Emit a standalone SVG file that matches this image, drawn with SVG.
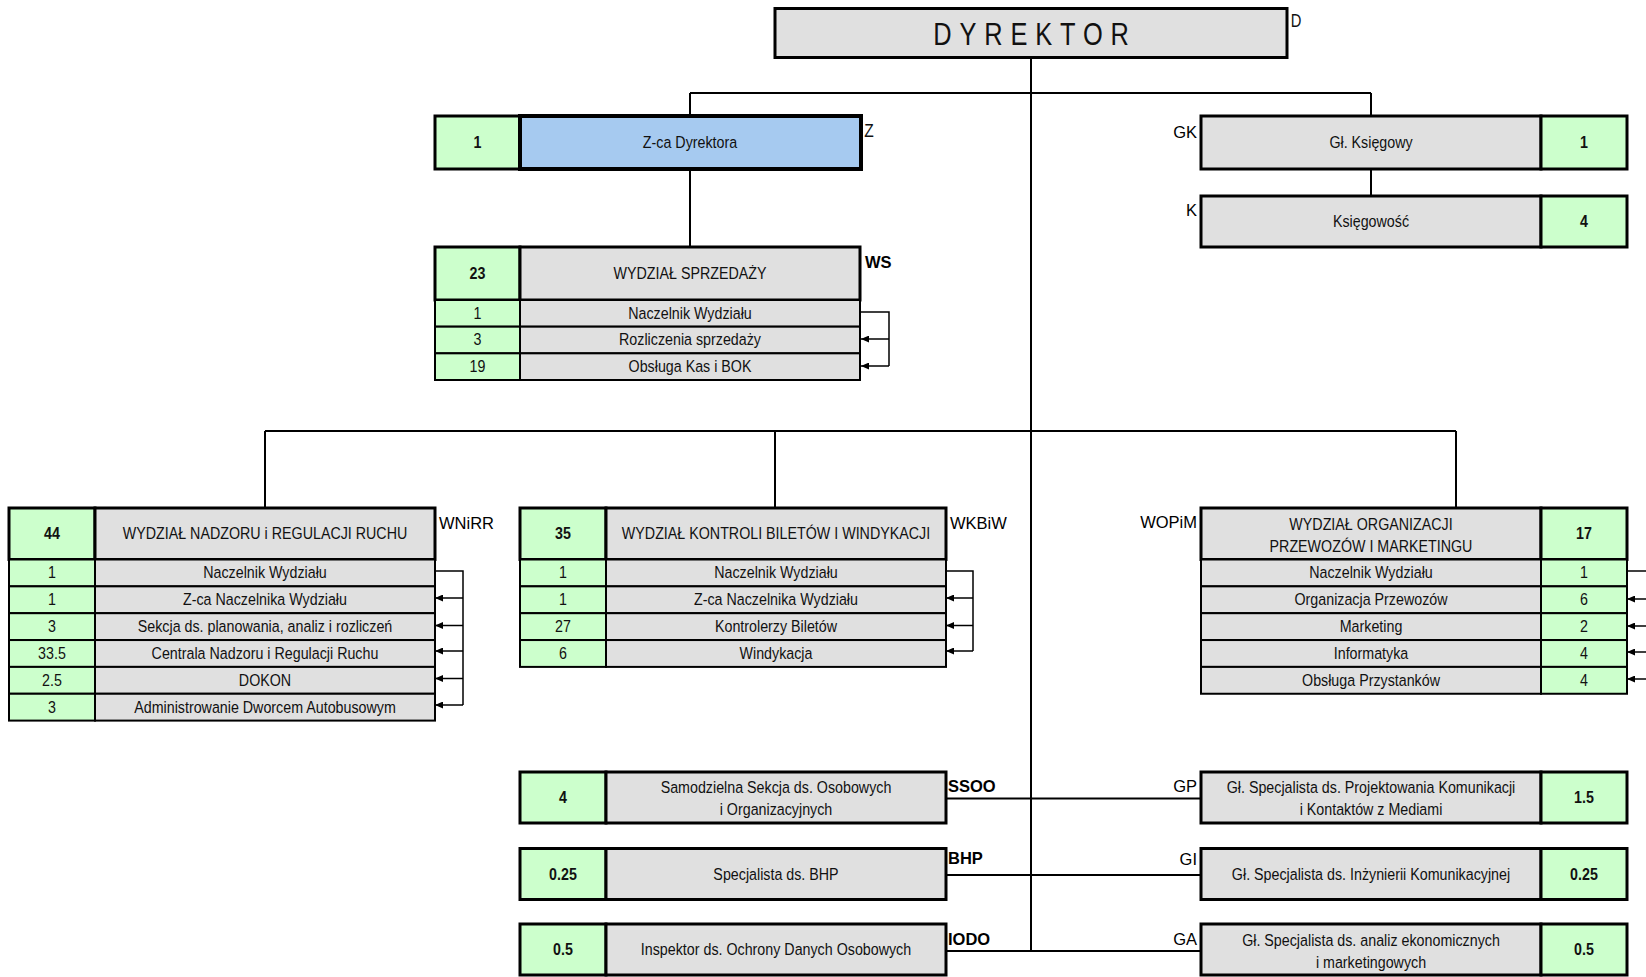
<svg xmlns="http://www.w3.org/2000/svg" width="1646" height="977" viewBox="0 0 1646 977">
<style>
.g{fill:#e0e0e0;stroke:#000;stroke-width:2}
.n{fill:#ccffcc;stroke:#000;stroke-width:2}
.bl{fill:#a6caf0;stroke:#000;stroke-width:4}
.k{stroke-width:3}
.t{font-family:"Liberation Sans Narrow","Liberation Sans",Arial,sans-serif;font-size:17.4px;fill:#111;text-anchor:middle}
.b{font-weight:bold}
.l{font-family:"Liberation Sans",Arial,sans-serif;font-size:16.5px;fill:#000}
.e{text-anchor:end}
.c{stroke:#000;stroke-width:2;fill:none}
.br{stroke:#000;stroke-width:1.5;fill:none}
</style>
<defs>
<marker id="ah" viewBox="0 0 8 7" refX="8" refY="3.5" markerWidth="8" markerHeight="7" markerUnits="userSpaceOnUse" orient="auto">
<path d="M0,0 L8,3.5 L0,7 z" fill="#000"/>
</marker>
</defs>

<g id="connectors">
<path class="c" d="M1031,58 V951"/>
<path class="c" d="M690,93 H1371"/>
<path class="c" d="M690,93 V116 M690,169 V247"/>
<path class="c" d="M1371,93 V116 M1371,169 V196"/>
<path class="c" d="M265,431 H1456 M265,431 V508 M775,431 V508 M1456,431 V508"/>
<path class="c" d="M946,798.5 H1201 M946,875 H1201 M946,951 H1201"/>
<path class="br" d="M861,312 H889 V366"/>
<path class="br" marker-end="url(#ah)" d="M889,339 H861"/>
<path class="br" marker-end="url(#ah)" d="M889,366 H861"/>
<path class="br" d="M435,571 H463 V705"/>
<path class="br" marker-end="url(#ah)" d="M463,598 H435"/>
<path class="br" marker-end="url(#ah)" d="M463,625.5 H435"/>
<path class="br" marker-end="url(#ah)" d="M463,651 H435"/>
<path class="br" marker-end="url(#ah)" d="M463,678.5 H435"/>
<path class="br" marker-end="url(#ah)" d="M463,705 H435"/>
<path class="br" d="M946,571 H973 V651"/>
<path class="br" marker-end="url(#ah)" d="M973,598 H946"/>
<path class="br" marker-end="url(#ah)" d="M973,625.5 H946"/>
<path class="br" marker-end="url(#ah)" d="M973,651 H946"/>
<path class="br" d="M1646,571 H1627"/>
<path class="br" marker-end="url(#ah)" d="M1646,599 H1627"/>
<path class="br" marker-end="url(#ah)" d="M1646,626 H1627"/>
<path class="br" marker-end="url(#ah)" d="M1646,652 H1627"/>
<path class="br" marker-end="url(#ah)" d="M1646,679 H1627"/>
</g>

<g id="D">
<rect class="g k" x="775" y="8.5" width="512" height="49"/>
<text class="t" transform="matrix(.82 0 0 1 1035 0)" y="45" style="font-size:31px;letter-spacing:9.6px">DYREKTOR</text>
<text class="t" transform="matrix(.82 0 0 1 1296 0)" y="27" style="font-size:18px">D</text>
</g>

<g id="Z">
<rect class="n k" x="435" y="116" width="85" height="53"/>
<rect class="bl" x="520" y="116" width="341" height="53"/>
<text class="t b" transform="matrix(.82 0 0 1 477.5 0)" y="148.5">1</text>
<text class="t" transform="matrix(.82 0 0 1 690 0)" y="148.5">Z-ca Dyrektora</text>
<text class="t" transform="matrix(.82 0 0 1 869 0)" y="137" style="font-size:19px">Z</text>
</g>

<g id="WS">
<rect class="n k" x="435" y="247" width="85" height="53"/>
<rect class="g k" x="520" y="247" width="340" height="53"/>
<text class="t b" transform="matrix(.82 0 0 1 477.5 0)" y="279.5">23</text>
<text class="t" transform="matrix(.82 0 0 1 690 0)" y="279.5">WYDZIAŁ SPRZEDAŻY</text>
<text class="l b" x="865" y="268">WS</text>
<rect class="n" x="435" y="300" width="85" height="26.67"/><rect class="g" x="520" y="300" width="340" height="26.67"/>
<text class="t" transform="matrix(.82 0 0 1 477.5 0)" y="318.8">1</text><text class="t" transform="matrix(.82 0 0 1 690 0)" y="318.8">Naczelnik Wydziału</text>
<rect class="n" x="435" y="326.67" width="85" height="26.67"/><rect class="g" x="520" y="326.67" width="340" height="26.67"/>
<text class="t" transform="matrix(.82 0 0 1 477.5 0)" y="345.5">3</text><text class="t" transform="matrix(.82 0 0 1 690 0)" y="345.5">Rozliczenia sprzedaży</text>
<rect class="n" x="435" y="353.33" width="85" height="26.67"/><rect class="g" x="520" y="353.33" width="340" height="26.67"/>
<text class="t" transform="matrix(.82 0 0 1 477.5 0)" y="372.1">19</text><text class="t" transform="matrix(.82 0 0 1 690 0)" y="372.1">Obsługa Kas i BOK</text>
</g>

<g id="GK">
<rect class="g k" x="1201" y="116" width="340" height="53"/>
<rect class="n k" x="1541" y="116" width="86" height="53"/>
<text class="t" transform="matrix(.82 0 0 1 1371 0)" y="148.5">Gł. Księgowy</text>
<text class="t b" transform="matrix(.82 0 0 1 1584 0)" y="148.5">1</text>
<text class="l e" x="1197" y="137.5">GK</text>
</g>

<g id="K">
<rect class="g k" x="1201" y="196" width="340" height="51"/>
<rect class="n k" x="1541" y="196" width="86" height="51"/>
<text class="t" transform="matrix(.82 0 0 1 1371 0)" y="227.5">Księgowość</text>
<text class="t b" transform="matrix(.82 0 0 1 1584 0)" y="227.5">4</text>
<text class="l e" x="1197" y="216">K</text>
</g>

<g id="WNiRR">
<rect class="n k" x="9" y="508" width="86" height="51.5"/>
<rect class="g k" x="95" y="508" width="340" height="51.5"/>
<text class="t b" transform="matrix(.82 0 0 1 52 0)" y="539.5">44</text>
<text class="t" transform="matrix(.82 0 0 1 265 0)" y="539.5">WYDZIAŁ NADZORU i REGULACJI RUCHU</text>
<text class="l" x="439" y="529">WNiRR</text>
<rect class="n" x="9" y="559.5" width="86" height="26.85"/><rect class="g" x="95" y="559.5" width="340" height="26.85"/>
<text class="t" transform="matrix(.82 0 0 1 52 0)" y="578.4">1</text><text class="t" transform="matrix(.82 0 0 1 265 0)" y="578.4">Naczelnik Wydziału</text>
<rect class="n" x="9" y="586.35" width="86" height="26.85"/><rect class="g" x="95" y="586.35" width="340" height="26.85"/>
<text class="t" transform="matrix(.82 0 0 1 52 0)" y="605.25">1</text><text class="t" transform="matrix(.82 0 0 1 265 0)" y="605.25">Z-ca Naczelnika Wydziału</text>
<rect class="n" x="9" y="613.2" width="86" height="26.85"/><rect class="g" x="95" y="613.2" width="340" height="26.85"/>
<text class="t" transform="matrix(.82 0 0 1 52 0)" y="632.1">3</text><text class="t" transform="matrix(.82 0 0 1 265 0)" y="632.1">Sekcja ds. planowania, analiz i rozliczeń</text>
<rect class="n" x="9" y="640.05" width="86" height="26.85"/><rect class="g" x="95" y="640.05" width="340" height="26.85"/>
<text class="t" transform="matrix(.82 0 0 1 52 0)" y="658.95">33.5</text><text class="t" transform="matrix(.82 0 0 1 265 0)" y="658.95">Centrala Nadzoru i Regulacji Ruchu</text>
<rect class="n" x="9" y="666.9" width="86" height="26.85"/><rect class="g" x="95" y="666.9" width="340" height="26.85"/>
<text class="t" transform="matrix(.82 0 0 1 52 0)" y="685.8">2.5</text><text class="t" transform="matrix(.82 0 0 1 265 0)" y="685.8">DOKON</text>
<rect class="n" x="9" y="693.75" width="86" height="26.85"/><rect class="g" x="95" y="693.75" width="340" height="26.85"/>
<text class="t" transform="matrix(.82 0 0 1 52 0)" y="712.65">3</text><text class="t" transform="matrix(.82 0 0 1 265 0)" y="712.65">Administrowanie Dworcem Autobusowym</text>
</g>

<g id="WKBiW">
<rect class="n k" x="520" y="508" width="86" height="51.5"/>
<rect class="g k" x="606" y="508" width="340" height="51.5"/>
<text class="t b" transform="matrix(.82 0 0 1 563 0)" y="539.5">35</text>
<text class="t" transform="matrix(.82 0 0 1 776 0)" y="539.5">WYDZIAŁ KONTROLI BILETÓW I WINDYKACJI</text>
<text class="l" x="950" y="529">WKBiW</text>
<rect class="n" x="520" y="559.5" width="86" height="26.85"/><rect class="g" x="606" y="559.5" width="340" height="26.85"/>
<text class="t" transform="matrix(.82 0 0 1 563 0)" y="578.4">1</text><text class="t" transform="matrix(.82 0 0 1 776 0)" y="578.4">Naczelnik Wydziału</text>
<rect class="n" x="520" y="586.35" width="86" height="26.85"/><rect class="g" x="606" y="586.35" width="340" height="26.85"/>
<text class="t" transform="matrix(.82 0 0 1 563 0)" y="605.25">1</text><text class="t" transform="matrix(.82 0 0 1 776 0)" y="605.25">Z-ca Naczelnika Wydziału</text>
<rect class="n" x="520" y="613.2" width="86" height="26.85"/><rect class="g" x="606" y="613.2" width="340" height="26.85"/>
<text class="t" transform="matrix(.82 0 0 1 563 0)" y="632.1">27</text><text class="t" transform="matrix(.82 0 0 1 776 0)" y="632.1">Kontrolerzy Biletów</text>
<rect class="n" x="520" y="640.05" width="86" height="26.85"/><rect class="g" x="606" y="640.05" width="340" height="26.85"/>
<text class="t" transform="matrix(.82 0 0 1 563 0)" y="658.95">6</text><text class="t" transform="matrix(.82 0 0 1 776 0)" y="658.95">Windykacja</text>
</g>

<g id="WOPiM">
<rect class="g k" x="1201" y="508" width="340" height="51.5"/>
<rect class="n k" x="1541" y="508" width="86" height="51.5"/>
<text class="t" transform="matrix(.82 0 0 1 1371 0)" y="530.5">WYDZIAŁ ORGANIZACJI</text>
<text class="t" transform="matrix(.82 0 0 1 1371 0)" y="552">PRZEWOZÓW I MARKETINGU</text>
<text class="t b" transform="matrix(.82 0 0 1 1584 0)" y="539.5">17</text>
<text class="l e" x="1197" y="528">WOPiM</text>
<rect class="g" x="1201" y="559.5" width="340" height="26.85"/><rect class="n" x="1541" y="559.5" width="86" height="26.85"/>
<text class="t" transform="matrix(.82 0 0 1 1371 0)" y="578.4">Naczelnik Wydziału</text><text class="t" transform="matrix(.82 0 0 1 1584 0)" y="578.4">1</text>
<rect class="g" x="1201" y="586.35" width="340" height="26.85"/><rect class="n" x="1541" y="586.35" width="86" height="26.85"/>
<text class="t" transform="matrix(.82 0 0 1 1371 0)" y="605.25">Organizacja Przewozów</text><text class="t" transform="matrix(.82 0 0 1 1584 0)" y="605.25">6</text>
<rect class="g" x="1201" y="613.2" width="340" height="26.85"/><rect class="n" x="1541" y="613.2" width="86" height="26.85"/>
<text class="t" transform="matrix(.82 0 0 1 1371 0)" y="632.1">Marketing</text><text class="t" transform="matrix(.82 0 0 1 1584 0)" y="632.1">2</text>
<rect class="g" x="1201" y="640.05" width="340" height="26.85"/><rect class="n" x="1541" y="640.05" width="86" height="26.85"/>
<text class="t" transform="matrix(.82 0 0 1 1371 0)" y="658.95">Informatyka</text><text class="t" transform="matrix(.82 0 0 1 1584 0)" y="658.95">4</text>
<rect class="g" x="1201" y="666.9" width="340" height="26.85"/><rect class="n" x="1541" y="666.9" width="86" height="26.85"/>
<text class="t" transform="matrix(.82 0 0 1 1371 0)" y="685.8">Obsługa Przystanków</text><text class="t" transform="matrix(.82 0 0 1 1584 0)" y="685.8">4</text>
</g>

<g id="SSOO">
<rect class="n k" x="520" y="772" width="86" height="51"/>
<rect class="g k" x="606" y="772" width="340" height="51"/>
<text class="t b" transform="matrix(.82 0 0 1 563 0)" y="803.5">4</text>
<text class="t" transform="matrix(.82 0 0 1 776 0)" y="793.5">Samodzielna Sekcja ds. Osobowych</text>
<text class="t" transform="matrix(.82 0 0 1 776 0)" y="815">i Organizacyjnych</text>
<text class="l b" x="948" y="792">SSOO</text>
</g>

<g id="BHP">
<rect class="n k" x="520" y="848.5" width="86" height="51"/>
<rect class="g k" x="606" y="848.5" width="340" height="51"/>
<text class="t b" transform="matrix(.82 0 0 1 563 0)" y="880">0.25</text>
<text class="t" transform="matrix(.82 0 0 1 776 0)" y="880">Specjalista ds. BHP</text>
<text class="l b" x="948" y="864">BHP</text>
</g>

<g id="IODO">
<rect class="n k" x="520" y="924" width="86" height="51"/>
<rect class="g k" x="606" y="924" width="340" height="51"/>
<text class="t b" transform="matrix(.82 0 0 1 563 0)" y="955.5">0.5</text>
<text class="t" transform="matrix(.82 0 0 1 776 0)" y="955.5">Inspektor ds. Ochrony Danych Osobowych</text>
<text class="l b" x="948" y="945">IODO</text>
</g>

<g id="GP">
<rect class="g k" x="1201" y="772" width="340" height="51"/>
<rect class="n k" x="1541" y="772" width="86" height="51"/>
<text class="t" transform="matrix(.82 0 0 1 1371 0)" y="793.5">Gł. Specjalista ds. Projektowania Komunikacji</text>
<text class="t" transform="matrix(.82 0 0 1 1371 0)" y="815">i Kontaktów z Mediami</text>
<text class="t b" transform="matrix(.82 0 0 1 1584 0)" y="803.5">1.5</text>
<text class="l e" x="1197" y="792">GP</text>
</g>

<g id="GI">
<rect class="g k" x="1201" y="848.5" width="340" height="51"/>
<rect class="n k" x="1541" y="848.5" width="86" height="51"/>
<text class="t" transform="matrix(.82 0 0 1 1371 0)" y="880">Gł. Specjalista ds. Inżynierii Komunikacyjnej</text>
<text class="t b" transform="matrix(.82 0 0 1 1584 0)" y="880">0.25</text>
<text class="l e" x="1197" y="865">GI</text>
</g>

<g id="GA">
<rect class="g k" x="1201" y="924" width="340" height="51"/>
<rect class="n k" x="1541" y="924" width="86" height="51"/>
<text class="t" transform="matrix(.82 0 0 1 1371 0)" y="946">Gł. Specjalista ds. analiz ekonomicznych</text>
<text class="t" transform="matrix(.82 0 0 1 1371 0)" y="968">i marketingowych</text>
<text class="t b" transform="matrix(.82 0 0 1 1584 0)" y="955.5">0.5</text>
<text class="l e" x="1197" y="945">GA</text>
</g>
</svg>
